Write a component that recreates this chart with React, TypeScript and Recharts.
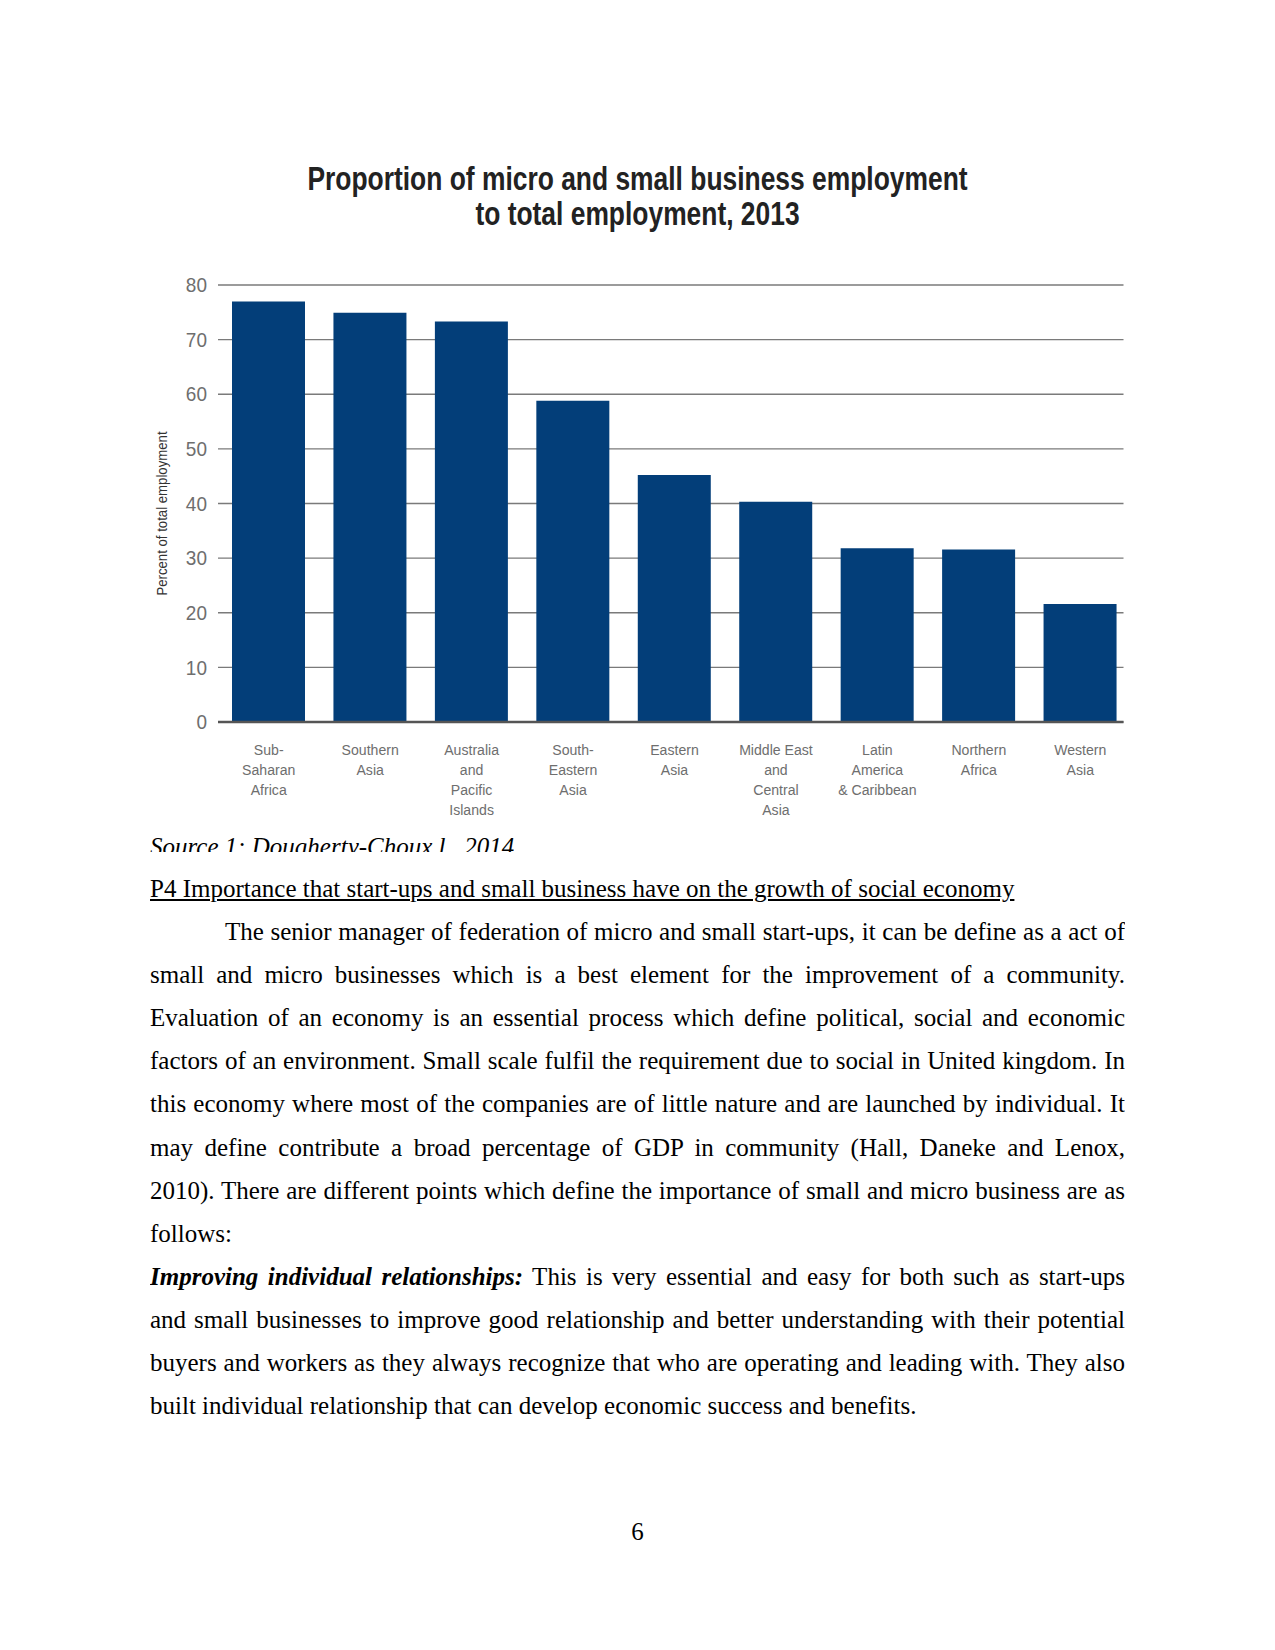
import React from "react";
import { BarChart, Bar, XAxis, YAxis, CartesianGrid } from "recharts";

const titleLines = ["Proportion of micro and small business employment", "to total employment, 2013"];
const categories = [
  "Sub-\nSaharan\nAfrica",
  "Southern\nAsia",
  "Australia\nand\nPacific\nIslands",
  "South-\nEastern\nAsia",
  "Eastern\nAsia",
  "Middle East\nand\nCentral\nAsia",
  "Latin\nAmerica\n& Caribbean",
  "Northern\nAfrica",
  "Western\nAsia",
];
const shares = [77.0, 74.9, 73.3, 58.8, 45.2, 40.3, 31.8, 31.6, 21.6];
const yTicks = [0, 10, 20, 30, 40, 50, 60, 70, 80];
const yLabel = "Percent of total employment";
const caption = "Source 1: Dougherty-Choux l., 2014";
const heading = "P4 Importance that start-ups and small business have on the growth of social economy";
const para1 = [
  "The senior manager of federation of micro and small start-ups, it can be define as a act of",
  "small and micro businesses which is a best element for the improvement of a community.",
  "Evaluation of an economy is an essential process which define political, social and economic",
  "factors of an environment. Small scale fulfil the requirement due to social in United kingdom. In",
  "this economy where most of the companies are of little nature and are launched by individual. It",
  "may define contribute a broad percentage of GDP in community (Hall, Daneke and Lenox,",
  "2010). There are different points which define the importance of small and micro business are as",
  "follows:",
];
const para2Lead = "Improving individual relationships:";
const para2 = [
  " This is very essential and easy for both such as start-ups",
  "and small businesses to improve good relationship and better understanding with their potential",
  "buyers and workers as they always recognize that who are operating and leading with. They also",
  "built individual relationship that can develop economic success and benefits.",
];
const pageNumber = "6";

const data = categories.map((c, i) => ({ region: c, value: shares[i] }));

const SANS = '"Liberation Sans", Arial, sans-serif';
const SERIF = '"Liberation Serif", "Times New Roman", serif';

const squeeze = (cx: number, s: number) => `translate(${cx},0) scale(${s},1) translate(${-cx},0)`;

const XTick = (props: any) => {
  const { x, y, payload } = props;
  const lines = String(payload.value).split("\n");
  return (
    <text
      x={x}
      y={y}
      textAnchor="middle"
      fontFamily={SANS}
      fontSize={15}
      fill="#6e6e6e"
      transform={squeeze(x, 0.94)}
    >
      {lines.map((l: string, i: number) => (
        <tspan key={i} x={x} y={y + 25 + i * 20}>
          {l}
        </tspan>
      ))}
    </text>
  );
};

const YTick = (props: any) => {
  const { x, y, payload } = props;
  return (
    <text
      x={x}
      y={y}
      dy="0.36em"
      textAnchor="end"
      fontFamily={SANS}
      fontSize={20}
      fill="#6e6e6e"
      transform={squeeze(x, 0.95)}
    >
      {payload.value}
    </text>
  );
};

const YLabel = (props: any) => {
  const vb = props.viewBox || {};
  const cx = vb.x + 4;
  const cy = vb.y + vb.height / 2 + 10;
  return (
    <text
      x={cx}
      y={cy}
      transform={`rotate(-90, ${cx}, ${cy}) ${squeeze(cx, 0.88)}`}
      textAnchor="middle"
      dominantBaseline="central"
      fontFamily={SANS}
      fontSize={15}
      fill="#333"
    >
      {yLabel}
    </text>
  );
};

const lineStyle: React.CSSProperties = {
  height: 43.1,
  lineHeight: "43.1px",
  overflow: "hidden",
  textAlign: "justify",
  textAlignLast: "justify" as any,
};

export default function App() {
  return (
    <div style={{ position: "absolute", left: 0, top: 0, width: 1275, height: 1650, background: "#fff" }}>
      <div style={{ position: "absolute", left: 0, top: 0 }}>
        <BarChart
          width={1275}
          height={830}
          data={data}
          margin={{ top: 285, right: 151.5, bottom: 8, left: 158 }}
        >
          <CartesianGrid vertical={false} stroke="#7a7a7a" strokeWidth={1.4} />
          <XAxis
            dataKey="region"
            height={100}
            tickLine={false}
            axisLine={{ stroke: "#555", strokeWidth: 2.5 }}
            tick={<XTick />}
            interval={0}
            padding={{ left: 0, right: -7.5 }}
          />
          <YAxis
            width={60}
            domain={[0, 80]}
            ticks={yTicks}
            tickLine={false}
            axisLine={false}
            tickMargin={5}
            tick={<YTick />}
            label={<YLabel />}
          />
          <Bar dataKey="value" fill="#033e79" barSize={73} isAnimationActive={false} />
        </BarChart>
      </div>

      <div
        style={{
          position: "absolute",
          left: 0,
          top: 161,
          width: 1275,
          textAlign: "center",
          fontFamily: SANS,
          fontWeight: "bold",
          fontSize: 33,
          lineHeight: "35px",
          color: "#222",
          transform: "scaleX(0.8)",
          transformOrigin: "center",
        }}
      >
        {titleLines.map((t, i) => (
          <div key={i}>{t}</div>
        ))}
      </div>

      <div
        style={{
          position: "absolute",
          left: 150,
          top: 832,
          height: 19.5,
          overflow: "hidden",
          fontFamily: SERIF,
          fontStyle: "italic",
          fontSize: 25,
          lineHeight: "30px",
          whiteSpace: "nowrap",
          color: "#000",
        }}
      >
        {caption}
      </div>

      <div
        style={{
          position: "absolute",
          left: 150,
          top: 867,
          width: 975,
          fontFamily: SERIF,
          fontSize: 25,
          color: "#000",
        }}
      >
        <div style={{ ...lineStyle, textAlign: "left", textAlignLast: "left" as any }}>
          <span style={{ textDecoration: "underline" }}>{heading}</span>
        </div>
        {para1.map((l, i) => {
          const last = i === para1.length - 1;
          return (
            <div
              key={i}
              style={{
                ...lineStyle,
                paddingLeft: i === 0 ? 75 : 0,
                textAlign: last ? "left" : "justify",
                textAlignLast: (last ? "left" : "justify") as any,
              }}
            >
              {l}
            </div>
          );
        })}
        {para2.map((l, i) => {
          const last = i === para2.length - 1;
          return (
            <div
              key={i}
              style={{
                ...lineStyle,
                textAlign: last ? "left" : "justify",
                textAlignLast: (last ? "left" : "justify") as any,
              }}
            >
              {i === 0 ? (
                <>
                  <b>
                    <i>{para2Lead}</i>
                  </b>
                  {l}
                </>
              ) : (
                l
              )}
            </div>
          );
        })}
      </div>

      <div
        style={{
          position: "absolute",
          left: 0,
          top: 1510,
          width: 1275,
          textAlign: "center",
          fontFamily: SERIF,
          fontSize: 25,
          lineHeight: "43px",
        }}
      >
        {pageNumber}
      </div>
    </div>
  );
}
